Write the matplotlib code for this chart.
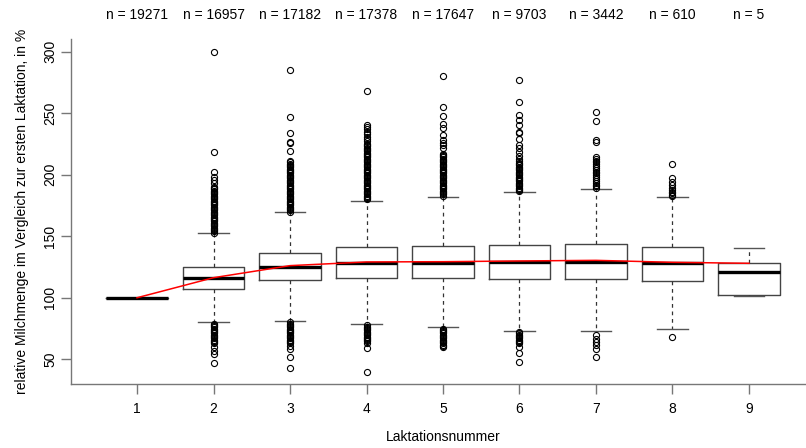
import matplotlib
matplotlib.use("Agg")
import matplotlib.pyplot as plt

plt.rcParams["font.family"] = ["Liberation Sans", "DejaVu Sans"]

# Laktationen 1..9
lakt = [1, 2, 3, 4, 5, 6, 7, 8, 9]
n_obs = [19271, 16957, 17182, 17378, 17647, 9703, 3442, 610, 5]

# Kennwerte der Boxen
q1 = [100, 107.0, 114.2, 115.8, 115.8, 115.0, 115.0, 113.4, 102.0]
med = [100, 116.1, 125.0, 128.0, 128.3, 128.8, 128.8, 128.5, 121.0]
q3 = [100, 125.0, 136.1, 141.0, 142.1, 143.2, 144.0, 141.0, 128.0]
whis_lo = [100, 80.1, 80.9, 78.7, 76.0, 72.8, 72.8, 74.4, 101.3]
whis_hi = [100, 152.4, 169.5, 178.9, 181.9, 185.7, 188.1, 181.6, 140.4]

# Ausreisser
out_2 = [153, 154, 155, 156, 157, 158, 159, 160, 161, 162, 163, 164, 165, 166,
         167, 168, 169, 170, 171, 172, 173, 174, 175, 176, 177, 178, 179, 180,
         181, 182, 183, 184, 185, 186, 187, 188, 189, 190, 193.0, 195.7, 197.9,
         202.0, 218.7, 300.0,
         79, 78, 77, 76, 75, 74, 73, 72, 71, 70, 69, 68, 67, 66, 65, 64, 63,
         59.7, 57.0, 54.3, 46.7]
out_3 = [170, 171, 172, 173, 174, 175, 176, 177, 178, 179, 180, 181, 182, 183,
         184, 185, 186, 187, 188, 189, 190, 191, 192, 193, 194, 195, 196, 197,
         198, 199, 200, 201, 202, 203, 204, 205, 206, 207, 208, 209, 210, 211,
         219.5, 225.4, 226.8, 233.7, 247.1, 284.8,
         80, 79, 78, 77, 76, 75, 74, 73, 72, 71, 70, 69, 68, 67, 66, 65, 64, 63,
         61.0, 58.1, 52.1, 42.7]
out_4 = [180, 181, 182, 183, 184, 185, 186, 187, 188, 189, 190, 191, 192, 193,
         194, 195, 196, 197, 198, 199, 200, 201, 202, 203, 204, 205, 206, 207,
         208, 209, 210, 211, 212, 213, 214, 215, 216, 217, 218, 219, 220, 221,
         222, 223, 224, 225, 227, 229, 231, 233, 235, 237, 238.5, 240, 267.8,
         77.5, 76.5, 75.5, 74.5, 73.5, 72.5, 71.5, 70.5, 69.5, 68.5, 67.5,
         66.5, 65.5, 64.5, 63.2, 58.9, 39.7]
out_5 = [183, 184, 185, 186, 187, 188, 189, 190, 191, 192, 193, 194, 195, 196,
         197, 198, 199, 200, 201, 202, 203, 204, 205, 206, 207, 208, 209, 210,
         211, 212, 213, 214, 215, 216, 217, 221.5, 224.0, 226.0, 228.2, 232.3,
         237.7, 241.2, 248.0, 255.3, 280.2,
         75, 74, 73, 72, 71, 70, 69, 68, 67, 66, 65, 64, 63, 62, 61, 60.2]
out_6 = [186.5, 187.5, 188.5, 189.5, 190.5, 191.5, 192.5, 193.5, 194.5, 195.5,
         196.5, 197.5, 198.5, 199.5, 200.5, 201.5, 202.5, 203.5, 204.5, 205.5,
         206.5, 207.5, 208.5, 209.5, 211.0, 213.0, 215.5, 218.7, 222.0, 224.0,
         229.3, 233.8, 234.8, 240.2, 244.4, 248.3, 259.1, 276.7,
         72, 71, 70, 69, 68, 67, 66, 65, 64, 63.2, 60.2, 54.9, 47.8]
out_7 = [189.0, 190.5, 192.0, 193.5, 195.0, 196.5, 198.0, 199.5, 201.0, 202.5,
         204.0, 205.5, 207.0, 208.5, 210.0, 211.5, 213.0, 214.6,
         226.3, 228.2, 243.9, 250.7,
         69.5, 66.8, 64.1, 61.4, 58.7, 52.1]
out_8 = [182.7, 183.5, 185.0, 186.2, 187.5, 188.9, 191.6, 194.3, 197.0, 209.0,
         67.9]
outliers = [[], out_2, out_3, out_4, out_5, out_6, out_7, out_8, []]

# rote Linie (Verlauf)
trend = [100, 116.3, 126.1, 129.1, 129.3, 129.9, 130.4, 128.8, 128.0]

stats = []
for i in range(len(lakt)):
    stats.append(dict(q1=q1[i], med=med[i], q3=q3[i], whislo=whis_lo[i],
                      whishi=whis_hi[i], fliers=outliers[i]))

fig = plt.figure(figsize=(8.06, 4.48), dpi=100)
ax = fig.add_axes([71 / 806, 64 / 448, 744 / 806, 345 / 448])

boxcol = "#444444"
ax.bxp(stats, positions=lakt, widths=0.8, showfliers=True,
       boxprops=dict(color=boxcol, linewidth=1.0),
       medianprops=dict(color="black", linewidth=2.4),
       whiskerprops=dict(color="#333333", linewidth=0.9, linestyle=(0, (3, 3))),
       capprops=dict(color="#555555", linewidth=1.0),
       flierprops=dict(marker="o", markersize=4.4, markerfacecolor="none",
                       markeredgecolor="black", markeredgewidth=0.8),
       manage_ticks=False)

ax.plot(lakt, trend, color="red", linewidth=1.1, zorder=5)

ax.set_xlim(0.137, 9.863)
ax.set_ylim(29.9, 310.3)

ax.spines["top"].set_visible(False)
ax.spines["right"].set_visible(False)
for s in ["left", "bottom"]:
    ax.spines[s].set_color("#777777")
    ax.spines[s].set_linewidth(1.0)

ax.set_xticks(lakt)
ax.set_xticklabels([str(v) for v in lakt])
ax.set_yticks([50, 100, 150, 200, 250, 300])
ax.set_yticklabels(["50", "100", "150", "200", "250", "300"], rotation=90,
                   va="center")
ax.tick_params(axis="both", length=7, width=1.0, color="#777777",
               labelsize=10, pad=6)
ax.tick_params(axis="y", pad=3)

ax.set_xlabel("Laktationsnummer", fontsize=10, labelpad=10)
ax.set_ylabel("relative Milchmenge im Vergleich zur ersten Laktation, in %",
              fontsize=10, labelpad=10)

for x, n in zip(lakt, n_obs):
    ax.text(x, 1.0 + 24 / 345, "n = %d" % n, transform=ax.get_xaxis_transform(),
            ha="center", va="center", fontsize=10)

fig.savefig("out.png", dpi=100)
